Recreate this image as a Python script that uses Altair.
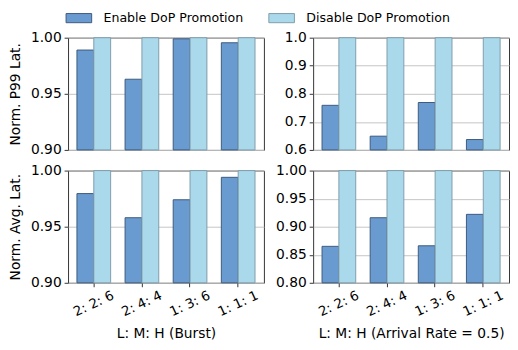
import altair as alt
import pandas as pd

categories = ["2: 2: 6", "2: 4: 4", "1: 3: 6", "1: 1: 1"]
series = ["Enable DoP Promotion", "Disable DoP Promotion"]

p99_burst_enable = [0.989, 0.963, 0.999, 0.9955]
p99_burst_disable = [1.0, 1.0, 1.0, 1.0]
p99_rate_enable = [0.759, 0.649, 0.769, 0.637]
p99_rate_disable = [1.0, 1.0, 1.0, 1.0]
avg_burst_enable = [0.9795, 0.958, 0.974, 0.994]
avg_burst_disable = [1.0, 1.0, 1.0, 1.0]
avg_rate_enable = [0.865, 0.916, 0.866, 0.922]
avg_rate_disable = [1.0, 1.0, 1.0, 1.0]

fill_colors = ["#6a9bd0", "#a9d9ea"]
edge_colors = ["#3c5a7c", "#7f9daa"]
FONT = "DejaVu Sans"


def make_df(enable, disable):
    rows = []
    for c, e, d in zip(categories, enable, disable):
        rows.append({"cat": c, "series": series[0], "value": e})
        rows.append({"cat": c, "series": series[1], "value": d})
    return pd.DataFrame(rows)


def panel(enable, disable, domain, ticks, fmt, ytitle, xtitle, show_x):
    df = make_df(enable, disable)
    if show_x:
        xaxis = alt.Axis(title=xtitle, labelAngle=-25, labelAlign="center",
                         labelBaseline="middle", labelPadding=17, tickSize=4,
                         domain=False, grid=False, labelFontSize=13.5,
                         titlePadding=9, tickColor="#333")
    else:
        xaxis = None
    yaxis = alt.Axis(title=ytitle, values=ticks, format=fmt, tickSize=4,
                     labelPadding=3, domain=False, grid=True, gridColor="#c4c4c4",
                     tickColor="#333", minExtent=38, maxExtent=38, titlePadding=8)
    return alt.Chart(df).mark_bar(strokeWidth=1).encode(
        x=alt.X("cat:N", sort=categories, axis=xaxis,
                scale=alt.Scale(paddingInner=0.3, paddingOuter=0.185)),
        xOffset=alt.XOffset("series:N", sort=series,
                            scale=alt.Scale(paddingInner=0, paddingOuter=0)),
        y=alt.Y("value:Q", axis=yaxis,
                scale=alt.Scale(domain=domain, zero=False, nice=False)),
        y2=alt.datum(domain[0]),
        fill=alt.Fill("series:N", sort=series,
                      scale=alt.Scale(domain=series, range=fill_colors),
                      legend=alt.Legend(title=None)),
        stroke=alt.Stroke("series:N", sort=series,
                          scale=alt.Scale(domain=series, range=edge_colors),
                          legend=alt.Legend(title=None)),
    ).properties(width=199, height=114)


a = panel(p99_burst_enable, p99_burst_disable, [0.9, 1.0], [0.90, 0.95, 1.00], ".2f",
          "Norm. P99 Lat.", "", False)
b = panel(p99_rate_enable, p99_rate_disable, [0.6, 1.0], [0.6, 0.7, 0.8, 0.9, 1.0], ".1f",
          "", "", False)
c = panel(avg_burst_enable, avg_burst_disable, [0.9, 1.0], [0.90, 0.95, 1.00], ".2f",
          "Norm. Avg. Lat.", "L: M: H (Burst)", True)
d = panel(avg_rate_enable, avg_rate_disable, [0.8, 1.0], [0.80, 0.85, 0.90, 0.95, 1.00], ".2f",
          "", "L: M: H (Arrival Rate = 0.5)", True)

chart = alt.concat(a, b, c, d, columns=2, spacing={"row": 21, "column": 50},
                   bounds="flush").properties(
    padding={"left": 0, "top": -2.5, "right": 0, "bottom": 0}
).configure_view(
    stroke="#333", strokeWidth=1
).configure_axis(
    labelFont=FONT, titleFont=FONT, labelFontSize=14, titleFontSize=14,
    labelColor="#000", titleColor="#000", titleFontWeight="normal"
).configure_legend(
    orient="none", legendX=1, legendY=-30, direction="horizontal",
    labelFont=FONT, labelFontSize=12.8, labelColor="#000",
    symbolType="M-1.4,-0.5H1.4V0.5H-1.4Z", symbolSize=345, symbolStrokeWidth=1,
    labelOffset=15, columnPadding=22, symbolOpacity=1
)

chart.save("out.html", embed_options={"renderer": "svg", "actions": False})
